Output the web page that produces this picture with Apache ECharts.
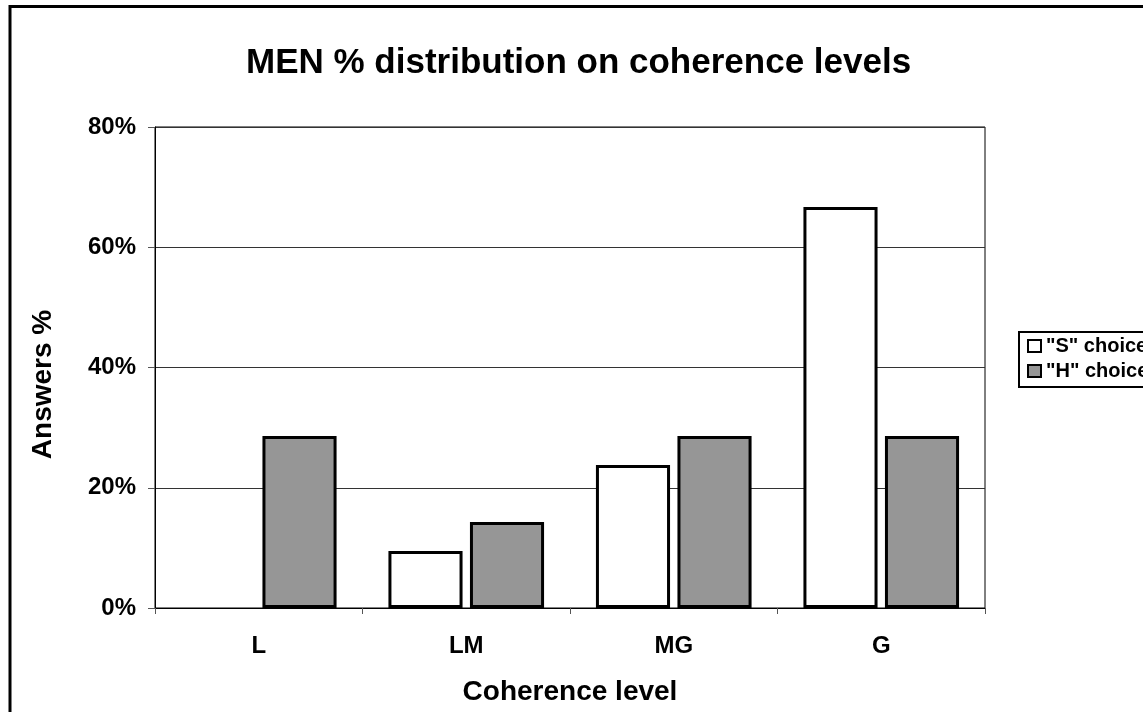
<!DOCTYPE html>
<html>
<head>
<meta charset="utf-8">
<script src="https://cdn.jsdelivr.net/npm/echarts@6/dist/echarts.min.js"></script>
<style>
  html, body { margin: 0; padding: 0; background: #fff; }
  #chart { width: 1143px; height: 712px; }
</style>
</head>
<body>
<div id="chart"></div>
<script>
// Coherence levels on the category axis
const categories = ['L', 'LM', 'MG', 'G'];
// Share of answers (%) per choice
const sChoice = [0, 9.5, 23.8, 66.7];
const hChoice = [28.6, 14.3, 28.6, 28.6];
// Value axis ticks (%)
const yTicks = [0, 20, 40, 60, 80];

const FONT = 'Liberation Sans, Arial, sans-serif';

// A zero-height bar shows no outline
const barData = values => values.map(v => (v === 0 ? { value: v, itemStyle: { borderWidth: 0 } } : v));

const chart = echarts.init(document.getElementById('chart'), null, { renderer: 'canvas' });

chart.setOption({
  backgroundColor: '#ffffff',
  animation: false,
  title: {
    text: 'MEN % distribution on coherence levels',
    left: 246,
    top: 46,
    padding: 0,
    textStyle: { fontFamily: FONT, fontSize: 35, fontWeight: 'bold', color: '#000' }
  },
  legend: {
    orient: 'vertical',
    left: 1019,
    top: 332,
    padding: [4, 6, 6, 8],
    itemGap: 5,
    itemWidth: 13,
    itemHeight: 12,
    borderColor: '#000',
    borderWidth: 2,
    borderRadius: 0,
    icon: 'rect',
    itemStyle: { borderWidth: 2, borderColor: '#000' },
    textStyle: { fontFamily: FONT, fontSize: 20, fontWeight: 'bold', color: '#000' },
    data: ['"S" choice', '"H" choice']
  },
  grid: {
    left: 155,
    top: 127,
    right: 158,
    bottom: 104,
    show: true,
    borderColor: '#000',
    borderWidth: 1,
    backgroundColor: 'transparent',
    containLabel: false
  },
  xAxis: {
    type: 'category',
    data: categories,
    name: 'Coherence level',
    nameLocation: 'middle',
    nameGap: 70,
    nameTextStyle: { fontFamily: FONT, fontSize: 28, fontWeight: 'bold', color: '#000' },
    axisLine: { show: true, lineStyle: { color: '#000', width: 1 } },
    axisTick: { show: true, length: 6, lineStyle: { color: '#555' } },
    axisLabel: { margin: 26, fontFamily: FONT, fontSize: 24, fontWeight: 'bold', color: '#000' },
    splitLine: { show: false }
  },
  yAxis: {
    type: 'value',
    min: yTicks[0],
    max: yTicks[yTicks.length - 1],
    interval: yTicks[1] - yTicks[0],
    name: 'Answers %',
    nameLocation: 'middle',
    nameGap: 98,
    nameTextStyle: { fontFamily: FONT, fontSize: 28, fontWeight: 'bold', color: '#000', padding: [0, 34, 0, 0] },
    axisLine: { show: true, lineStyle: { color: '#000', width: 1 } },
    axisTick: { show: true, length: 7, lineStyle: { color: '#555' } },
    axisLabel: {
      margin: 19,
      fontFamily: FONT, fontSize: 24, fontWeight: 'bold', color: '#000',
      formatter: '{value}%'
    },
    splitLine: { show: true, lineStyle: { color: '#333', width: 1 } }
  },
  series: [
    {
      name: '"S" choice',
      type: 'bar',
      data: barData(sChoice),
      barGap: '10%',
      barCategoryGap: '25%',
      itemStyle: { color: '#ffffff', borderColor: '#000', borderWidth: 3 }
    },
    {
      name: '"H" choice',
      type: 'bar',
      data: barData(hChoice),
      itemStyle: { color: '#969696', borderColor: '#000', borderWidth: 3 }
    }
  ],
  graphic: [
    {
      type: 'rect',
      silent: true,
      shape: { x: 10, y: 6.5, width: 1300, height: 900 },
      style: { fill: 'none', stroke: '#000', lineWidth: 3 }
    }
  ]
});
</script>
</body>
</html>
